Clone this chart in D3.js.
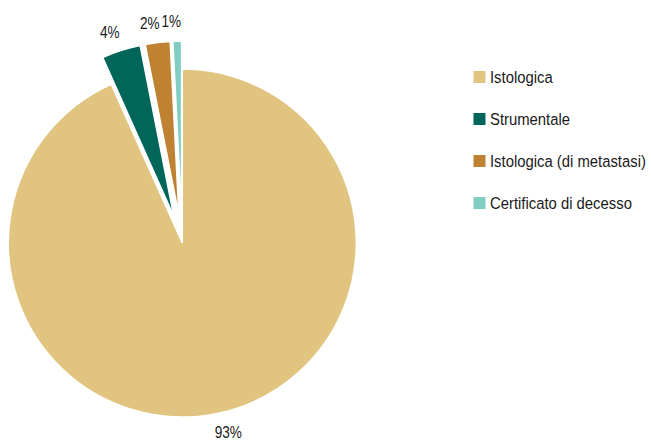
<!DOCTYPE html>
<html>
<head>
<meta charset="utf-8">
<script src="https://cdn.jsdelivr.net/npm/d3@7"></script>
<style>
  html, body { margin: 0; padding: 0; background: #fff; }
  svg { display: block; }
  text { font-family: "Liberation Sans", Arial, Helvetica, sans-serif; fill: #1a1a1a; }
</style>
</head>
<body>
<svg id="chart" width="651" height="441"></svg>
<script>
const categories = ["Istologica", "Strumentale", "Istologica (di metastasi)", "Certificato di decesso"];
const values = [93.3, 3.6, 2.3, 0.8];
const valueLabels = ["93%", "4%", "2%", "1%"];
const colors = ["#E0C47F", "#00665A", "#BE8232", "#80CEC1"];

const svg = d3.select("#chart");
const cx = 182.3, cy = 243, r = 174, explode = 28;

const pie = d3.pie().sort(null).value(d => d.v)(values.map((v, i) => ({v, i})));
const arc = d3.arc().innerRadius(0).outerRadius(r);

const g = svg.append("g").attr("transform", `translate(${cx},${cy})`);

function offset(d) {
  if (d.data.i === 0) return [0, 0];
  const a = (d.startAngle + d.endAngle) / 2;
  return [explode * Math.sin(a), -explode * Math.cos(a)];
}

g.selectAll("path.slice").data(pie).join("path")
  .attr("class", "slice")
  .attr("d", arc)
  .attr("transform", d => { const o = offset(d); return `translate(${o[0]},${o[1]})`; })
  .attr("fill", d => colors[d.data.i])
  .attr("stroke", "#fff")
  .attr("stroke-width", 1.5)
  .attr("stroke-linejoin", "miter");

const labelR = r + 20.5;
const labelShift = -1.6 * Math.PI / 180;
g.selectAll("text.pct").data(pie).join("text")
  .attr("class", "pct")
  .attr("transform", d => {
    const o = offset(d);
    const a = (d.startAngle + d.endAngle) / 2 + labelShift;
    const x = o[0] + labelR * Math.sin(a);
    const y = o[1] - labelR * Math.cos(a);
    return `translate(${x},${y}) scale(0.85,1)`;
  })
  .attr("text-anchor", "middle")
  .attr("dy", "0.36em")
  .style("font-size", "16px")
  .text(d => valueLabels[d.data.i]);

const legend = svg.append("g").attr("transform", "translate(473.5,71)");
const item = legend.selectAll("g").data(categories).join("g")
  .attr("transform", (d, i) => `translate(0,${i * 42})`);
item.append("rect").attr("width", 12).attr("height", 12).attr("fill", (d, i) => colors[i]);
item.append("text")
  .attr("transform", "translate(16.5,11.7) scale(0.9,1)")
  .style("font-size", "16.5px")
  .text(d => d);
</script>
</body>
</html>
